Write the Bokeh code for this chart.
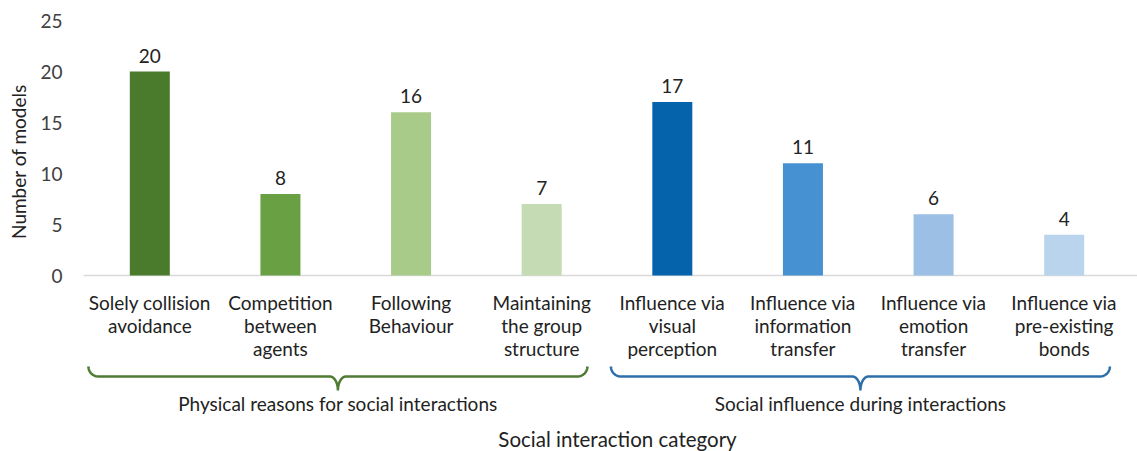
import math
from bokeh.plotting import figure
from bokeh.models import Range1d, ColumnDataSource
from bokeh.core.properties import value
from bokeh.embed import file_html
from bokeh.resources import INLINE

# ---- data ----
categories = [
    "Solely collision\navoidance",
    "Competition\nbetween\nagents",
    "Following\nBehaviour",
    "Maintaining\nthe group\nstructure",
    "Influence via\nvisual\nperception",
    "Influence via\ninformation\ntransfer",
    "Influence via\nemotion\ntransfer",
    "Influence via\npre-existing\nbonds",
]
counts = [20, 8, 16, 7, 17, 11, 6, 4]
bar_colors = ["#4A7A2C", "#6AA044", "#A8CB8A", "#C5DBB3",
              "#0563AC", "#4691D2", "#9BBFE5", "#BAD4EE"]
groups = ["Physical reasons for social interactions",
          "Social influence during interactions"]
group_sizes = [4, 4]
group_colors = ["#4F7B32", "#2F6FA9"]
y_ticks = [0, 5, 10, 15, 20, 25]
x_title = "Social interaction category"
y_title = "Number of models"

FONT = "Lato"
TXT = "#222222"

W, H = 1137, 451
LEFT = 84          # pixel position of category 0 edge
BASE = 275         # pixel position of y = 0
PX_X = 1045 / 8.0  # pixels per category
PX_Y = 255 / 25.0  # pixels per model

def yd(py):
    return (BASE - py) / PX_Y

def xd(px):
    return (px - LEFT) / PX_X

p = figure(width=W, height=H, output_backend="svg", toolbar_location=None,
           x_range=Range1d(xd(0), xd(W)), y_range=Range1d(yd(H), yd(0)),
           min_border=0)
p.outline_line_color = None
p.xgrid.visible = False
p.ygrid.visible = False
p.xaxis.visible = False
p.yaxis.visible = False
p.background_fill_color = "white"
p.border_fill_color = "white"

xs = [i + 0.5 for i in range(len(counts))]
src = ColumnDataSource(dict(x=xs, top=counts, color=bar_colors,
                            lab=[str(c) for c in counts], cat=categories))

# baseline
p.segment(x0=[xd(83)], y0=[0], x1=[xd(W)], y1=[0], line_color="#D9D9D9",
          line_width=1.5)

# y tick labels
p.text(x=xd(LEFT - 22), y=y_ticks, text=[str(t) for t in y_ticks],
       text_align="right", text_baseline="middle", text_font=value(FONT),
       text_font_size="19px", text_color="#404040")

p.vbar(x="x", top="top", bottom=0, width=40 / PX_X, fill_color="color",
       line_color=None, source=src)

p.text(x="x", y="top", text="lab", source=src, text_align="center",
       text_baseline="middle", y_offset=-16, text_font=value(FONT),
       text_font_size="19px", text_color=TXT)

# category labels
p.text(x="x", y=yd(290), text="cat", source=src, text_align="center",
       text_baseline="top", text_font=value(FONT), text_font_size="19px",
       text_color=TXT, text_line_height=1.02)

# braces
def brace(x0, x1, ytop, yflat, ytip, r_px=10.0, rm_px=8.0, n=20):
    rx = r_px / PX_X
    rmx = rm_px / PX_X
    xm = (x0 + x1) / 2.0
    bx, by = [], []
    for k in range(n + 1):
        t = (math.pi / 2) * k / n
        bx.append(x0 + rx * (1 - math.cos(t)))
        by.append(yflat + (ytop - yflat) * (1 - math.sin(t)))
    for k in range(n + 1):
        t = (math.pi / 2) * k / n
        bx.append(xm - rmx + rmx * math.sin(t))
        by.append(yflat + (ytip - yflat) * (1 - math.cos(t)))
    for k in range(n, -1, -1):
        t = (math.pi / 2) * k / n
        bx.append(xm + rmx - rmx * math.sin(t))
        by.append(yflat + (ytip - yflat) * (1 - math.cos(t)))
    for k in range(n, -1, -1):
        t = (math.pi / 2) * k / n
        bx.append(x1 - rx * (1 - math.cos(t)))
        by.append(yflat + (ytop - yflat) * (1 - math.sin(t)))
    return bx, by

ytop, yflat, ytip = yd(366), yd(376), yd(390)

start = 0
g_src = dict(x=[], y=[], text=[])
for gname, gsize, gcol in zip(groups, group_sizes, group_colors):
    x0 = start + 0.03
    x1 = start + gsize - 0.15
    bx, by = brace(x0, x1, ytop, yflat, ytip)
    p.line(bx, by, line_color=gcol, line_width=2.5)
    g_src["x"].append((x0 + x1) / 2.0)
    g_src["y"].append(yd(403))
    g_src["text"].append(gname)
    start += gsize

p.text(x="x", y="y", text="text", source=ColumnDataSource(g_src),
       text_align="center", text_baseline="middle", text_font=value(FONT),
       text_font_size="19px", text_color=TXT)

p.text(x=[xd(617)], y=[yd(438)], text=[x_title],
       text_align="center", text_baseline="middle", text_font=value(FONT),
       text_font_size="20.5px", text_color=TXT)

p.text(x=[xd(18)], y=[yd(161)], text=[y_title], angle=math.pi / 2,
       text_align="center", text_baseline="middle", text_font=value(FONT),
       text_font_size="19px", text_color=TXT)

open("out.html", "w").write(file_html(p, INLINE))
